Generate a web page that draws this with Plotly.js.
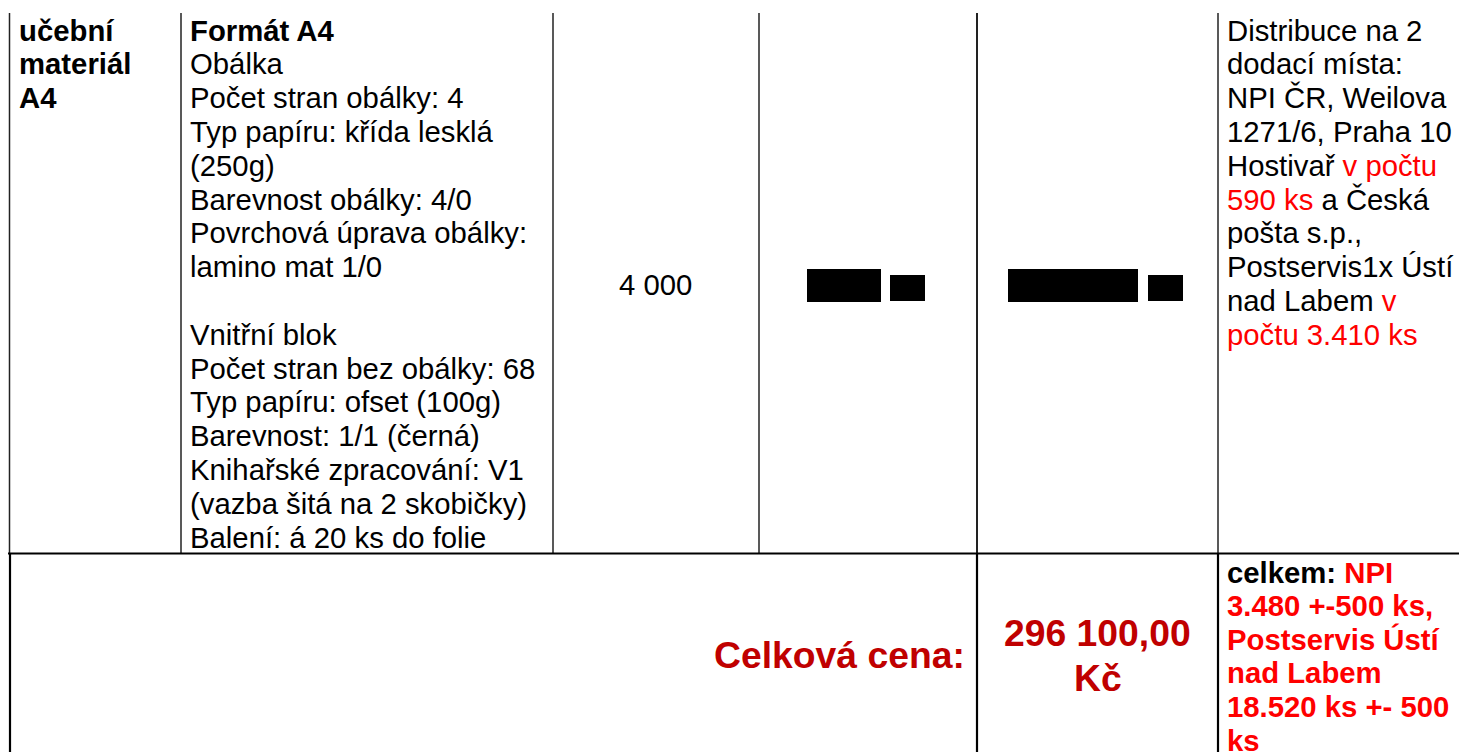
<!DOCTYPE html>
<html>
<head>
<meta charset="utf-8">
<script src="https://cdn.plot.ly/plotly-3.0.1.min.js"></script>
<style>
  html, body { margin: 0; padding: 0; background: #ffffff; }
  #chart { width: 1459px; height: 752px; }
</style>
</head>
<body>
<div id="chart"></div>
<script>
// ---------- DATA ----------
const itemNameLines = ["učební", "materiál", "A4"];
const specLines = [
  "<b>Formát A4</b>",
  "Obálka",
  "Počet stran obálky: 4",
  "Typ papíru: křída lesklá",
  "(250g)",
  "Barevnost obálky: 4/0",
  "Povrchová úprava obálky:",
  "lamino mat 1/0",
  "",
  "Vnitřní blok",
  "Počet stran bez obálky: 68",
  "Typ papíru: ofset (100g)",
  "Barevnost: 1/1 (černá)",
  "Knihařské zpracování: V1",
  "(vazba šitá na 2 skobičky)",
  "Balení: á 20 ks do folie"
];
const quantityText = "4 000";
const deliveryLines = [
  "Distribuce na 2",
  "dodací místa:",
  "NPI ČR, Weilova",
  "1271/6, Praha 10",
  "Hostivař <span style='color:#ff0000'>v počtu</span>",
  "<span style='color:#ff0000'>590 ks</span> a Česká",
  "pošta s.p.,",
  "Postservis1x Ústí",
  "nad Labem <span style='color:#ff0000'>v</span>",
  "<span style='color:#ff0000'>počtu 3.410 ks</span>"
];
const totalLabel = "Celková cena:";
const totalPriceLines = ["296 100,00", "Kč"];
const totalNoteLines = [
  "<span style='color:#000000'>celkem:</span> NPI",
  "3.480 +-500 ks,",
  "Postservis Ústí",
  "nad Labem",
  "18.520 ks +- 500",
  "ks"
];

// ---------- STYLE / LAYOUT GEOMETRY ----------
const FONT = "Liberation Sans, Arial, Helvetica, sans-serif";
const BASE = 29.3;
const BIG = 37.3;
const LH = 33.8;
const LH2 = 33.6;
const RED = "#ff0000";
const DARKRED = "#c00000";

const colX = [9.5, 181, 553, 759, 977, 1218];
const topY = 13;
const rowSplitY = 553.5;
const W = 1459, H = 752;

const annotations = [];
function addLine(text, x, y, opts) {
  annotations.push(Object.assign({
    text: text, x: x, y: y, xref: "x", yref: "y",
    showarrow: false, xanchor: "left", yanchor: "middle",
    borderpad: 0,
    font: {family: FONT, size: BASE, color: "#000000"}
  }, opts || {}));
}

itemNameLines.forEach((t, i) => addLine("<b>" + t + "</b>", 18, 30 + i * LH));
specLines.forEach((t, i) => { if (t) addLine(t, 189, 30 + i * LH); });
addLine(quantityText, 655, 284, {xanchor: "center"});
deliveryLines.forEach((t, i) => addLine(t, 1226, 30 + i * LH));
addLine("<b>" + totalLabel + "</b>", 966, 655,
  {xanchor: "right", font: {family: FONT, size: BIG, color: DARKRED}});
totalPriceLines.forEach((t, i) => addLine("<b>" + t + "</b>", 1097.5, 633 + i * 45,
  {xanchor: "center", font: {family: FONT, size: BIG, color: DARKRED}}));
totalNoteLines.forEach((t, i) => addLine("<b>" + t + "</b>", 1226, 572 + i * LH2,
  {font: {family: FONT, size: BASE, color: RED}}));

const shapes = [];
function line(x0, y0, x1, y1, w, c) {
  shapes.push({type: "line", xref: "x", yref: "y", x0: x0, y0: y0, x1: x1, y1: y1,
    line: {color: c, width: w}});
}
// upper row verticals
colX.forEach(x => line(x, topY, x, rowSplitY, (x === 977 ? 2 : 1.5), "#222222"));
// horizontal separator
line(8, rowSplitY, W, rowSplitY, 2.2, "#000000");
// lower row verticals
[10, 977, 1218].forEach(x => line(x, rowSplitY, x, H, 2.2, "#000000"));
// redaction boxes
[[807, 269, 881, 302], [890, 275, 925, 301], [1008, 269, 1138, 302], [1148, 275, 1183, 301]]
  .forEach(b => shapes.push({type: "rect", xref: "x", yref: "y",
    x0: b[0], y0: b[1], x1: b[2], y1: b[3], fillcolor: "#000000", line: {width: 0}}));

const layout = {
  width: W, height: H,
  margin: {l: 0, r: 0, t: 0, b: 0, pad: 0},
  paper_bgcolor: "#ffffff", plot_bgcolor: "#ffffff",
  xaxis: {range: [0, W], visible: false, fixedrange: true},
  yaxis: {range: [H, 0], visible: false, fixedrange: true},
  showlegend: false,
  annotations: annotations,
  shapes: shapes
};

Plotly.newPlot("chart", [{x: [], y: [], type: "scatter", mode: "markers", hoverinfo: "skip"}], layout,
  {displayModeBar: false, staticPlot: true});
</script>
</body>
</html>
